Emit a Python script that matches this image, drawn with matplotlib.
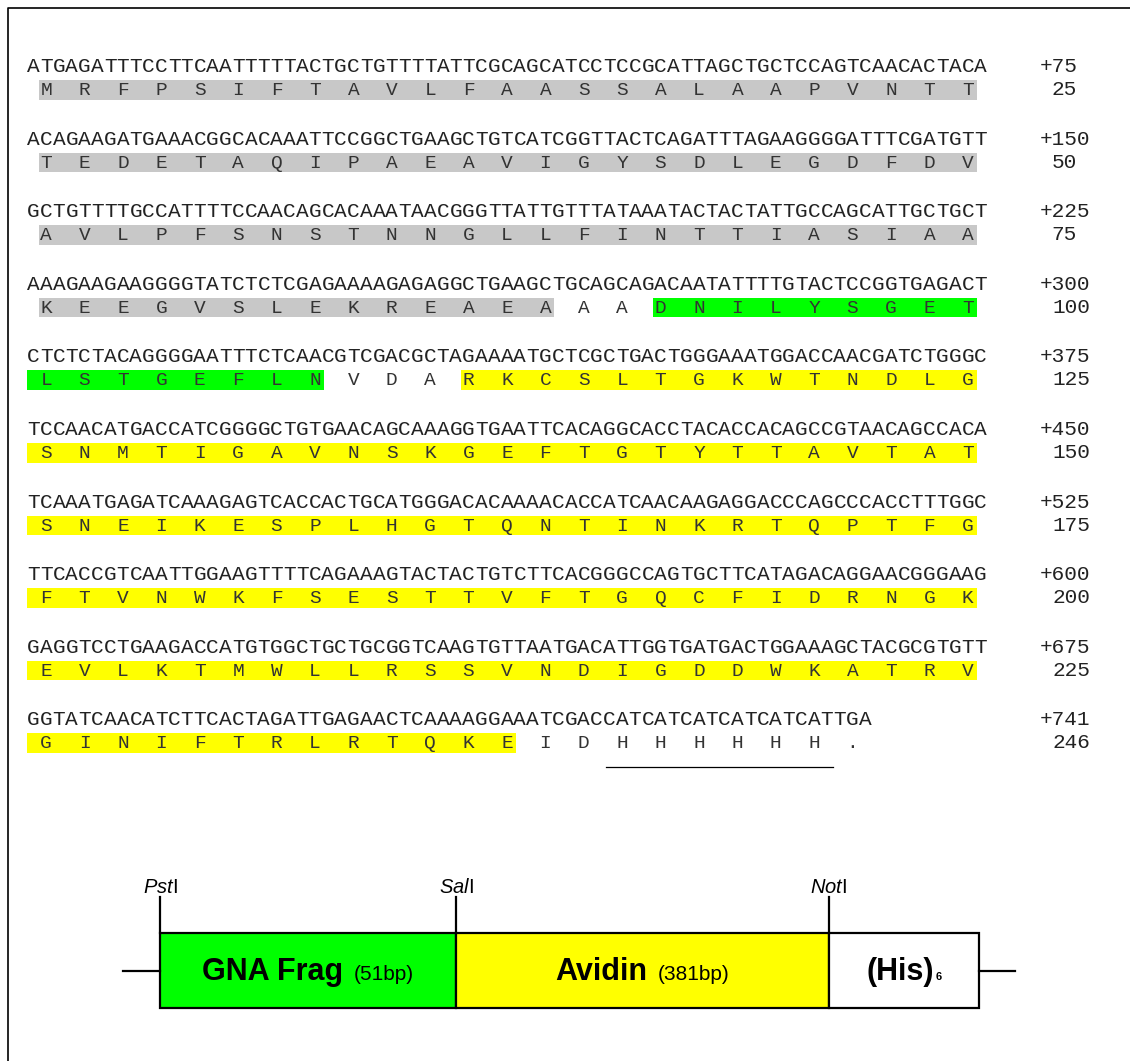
import matplotlib
matplotlib.use("Agg")
import matplotlib.pyplot as plt
from matplotlib.patches import Rectangle

# ----- DATA -----
dna_rows = [
    "ATGAGATTTCCTTCAATTTTTACTGCTGTTTTATTCGCAGCATCCTCCGCATTAGCTGCTCCAGTCAACACTACA",
    "ACAGAAGATGAAACGGCACAAATTCCGGCTGAAGCTGTCATCGGTTACTCAGATTTAGAAGGGGATTTCGATGTT",
    "GCTGTTTTGCCATTTTCCAACAGCACAAATAACGGGTTATTGTTTATAAATACTACTATTGCCAGCATTGCTGCT",
    "AAAGAAGAAGGGGTATCTCTCGAGAAAAGAGAGGCTGAAGCTGCAGCAGACAATATTTTGTACTCCGGTGAGACT",
    "CTCTCTACAGGGGAATTTCTCAACGTCGACGCTAGAAAATGCTCGCTGACTGGGAAATGGACCAACGATCTGGGC",
    "TCCAACATGACCATCGGGGCTGTGAACAGCAAAGGTGAATTCACAGGCACCTACACCACAGCCGTAACAGCCACA",
    "TCAAATGAGATCAAAGAGTCACCACTGCATGGGACACAAAACACCATCAACAAGAGGACCCAGCCCACCTTTGGC",
    "TTCACCGTCAATTGGAAGTTTTCAGAAAGTACTACTGTCTTCACGGGCCAGTGCTTCATAGACAGGAACGGGAAG",
    "GAGGTCCTGAAGACCATGTGGCTGCTGCGGTCAAGTGTTAATGACATTGGTGATGACTGGAAAGCTACGCGTGTT",
    "GGTATCAACATCTTCACTAGATTGAGAACTCAAAAGGAAATCGACCATCATCATCATCATCATTGA",
]
aa_rows = [
    "MRFPSIFTAVLFAASSALAAPVNTT",
    "TEDETAQIPAEAVIGYSDLEGDFDV",
    "AVLPFSNSTNNGLLFINTTIASIAA",
    "KEEGVSLEKREAEAAADNILYSGET",
    "LSTGEFLNVDARKCSLTGKWTNDLG",
    "SNMTIGAVNSKGEFTGTYTTAVTAT",
    "SNEIKESPLHGTQNTINKRTQPTFG",
    "FTVNWKFSESTTVFTGQCFIDRNGK",
    "EVLKTMWLLRSSVNDIGDDWKATRV",
    "GINIFTRLRTQKEIDHHHHHH.",
]
nt_numbers = ["+75", "+150", "+225", "+300", "+375", "+450", "+525", "+600", "+675", "+741"]
aa_numbers = ["25", "50", "75", "100", "125", "150", "175", "200", "225", "246"]

# shaded regions (amino acid numbers, 1-based, inclusive)
regions = [
    ("signal", 1, 89, "#c8c8c8"),
    ("gna", 92, 108, "#00ff00"),
    ("avidin", 112, 238, "#ffff00"),
]
his_tag = (241, 246)

# construct map
sites = ["Pst", "Sal", "Not"]
segments = ["GNA Frag", "Avidin", "(His)"]
segment_sizes = ["(51bp)", "(381bp)", ""]
segment_colors = ["#00ff00", "#ffff00", "white"]

# ----- LAYOUT -----
W, H = 1130, 1061
X0 = 27.0        # left edge of sequence text
CW = 12.8        # width of one column
ROW0 = 72.0      # baseline of first DNA row
ROW_STEP = 72.6
AA_OFF = 23.0    # aa baseline below DNA baseline
MONO = "Liberation Mono"
SANS = "Liberation Sans"

plt.rcParams["mathtext.fontset"] = "custom"
plt.rcParams["mathtext.it"] = "Liberation Sans:italic"
plt.rcParams["mathtext.rm"] = "Liberation Sans"

fig = plt.figure(figsize=(W / 100, H / 100), dpi=100)
ax = fig.add_axes([0, 0, 1, 1])
ax.set_xlim(0, W)
ax.set_ylim(H, 0)
ax.axis("off")

# frame
ax.plot([8, 8, W + 5], [H + 5, 8, 8], color="black", lw=1.2)


def col_x(c):
    return X0 + c * CW


aa_start = 0
for r, (dna, aa) in enumerate(zip(dna_rows, aa_rows)):
    yb = ROW0 + r * ROW_STEP
    ya = yb + AA_OFF
    # shading
    for name, s, e, colr in regions:
        lo = max(s, aa_start + 1)
        hi = min(e, aa_start + len(aa))
        if lo > hi:
            continue
        i0 = lo - aa_start - 1
        i1 = hi - aa_start - 1
        if lo == s or name == "signal":
            left = 3 * i0 + 0.9
        else:
            left = 0.0
        right = 3 * i1 + 2.2
        ax.add_patch(Rectangle((col_x(left), ya - 15), (right - left) * CW, 19.5,
                               facecolor=colr, edgecolor="none", zorder=1))
    # his tag underline
    lo, hi = his_tag
    if aa_start < hi <= aa_start + len(aa):
        i0 = lo - aa_start - 1
        i1 = hi - aa_start - 1
        ax.plot([col_x(3 * i0 + 0.2), col_x(3 * i1 + 3)], [ya + 19, ya + 19],
                color="black", lw=0.9, zorder=3)

    for j, ch in enumerate(dna):
        ax.text(col_x(j + 0.5), yb, ch, family=MONO, fontsize=15.2, va="baseline",
                ha="center", color="#222222", zorder=2)
    for i, ch in enumerate(aa):
        ax.text(col_x(3 * i + 1.5), ya, ch, family=MONO, fontsize=14,
                va="baseline", ha="center", color="#333333", zorder=2)
    ax.text(1040, yb, nt_numbers[r], family=MONO, fontsize=15.2,
            va="baseline", ha="left", color="#222222")
    ax.text(1090 if len(aa_numbers[r]) > 2 else 1077, ya, aa_numbers[r], family=MONO,
            fontsize=15.2, va="baseline", ha="right", color="#222222")
    aa_start += len(aa)

# ----- construct map -----
bounds = [160, 456, 829, 979]
box_top, box_bot = 933, 1008
ymid = (box_top + box_bot) / 2
for k in range(3):
    ax.add_patch(Rectangle((bounds[k], box_top), bounds[k + 1] - bounds[k],
                           box_bot - box_top, facecolor=segment_colors[k],
                           edgecolor="black", lw=1.6, zorder=2))
ax.plot([123, bounds[0]], [ymid, ymid], color="black", lw=1.6)
ax.plot([bounds[-1], 1015], [ymid, ymid], color="black", lw=1.6)
for k in range(3):
    ax.plot([bounds[k], bounds[k]], [897, box_top], color="black", lw=1.6)
    ax.text(bounds[k], 893, r"$\mathit{%s}$I" % sites[k], fontsize=14.5,
            family=SANS, ha="center", va="baseline")

fig.canvas.draw()
renderer = fig.canvas.get_renderer()
base = 980
for k in range(3):
    cx = (bounds[k] + bounds[k + 1]) / 2
    t1 = ax.text(0, base, segments[k], family=SANS, weight="bold", fontsize=22,
                 ha="left", va="baseline", zorder=3)
    if segment_sizes[k]:
        t2 = ax.text(0, base, segment_sizes[k], family=SANS, fontsize=15,
                     ha="left", va="baseline", zorder=3)
        gap = 11
    else:
        t2 = ax.text(0, base, "6", family=SANS, weight="bold", fontsize=8,
                     ha="left", va="baseline", zorder=3)
        gap = 2
    w1 = t1.get_window_extent(renderer).width
    w2 = t2.get_window_extent(renderer).width
    total = w1 + gap + w2
    x1 = cx - total / 2
    t1.set_x(x1)
    t2.set_x(x1 + w1 + gap)

fig.savefig("out.png", dpi=100)
